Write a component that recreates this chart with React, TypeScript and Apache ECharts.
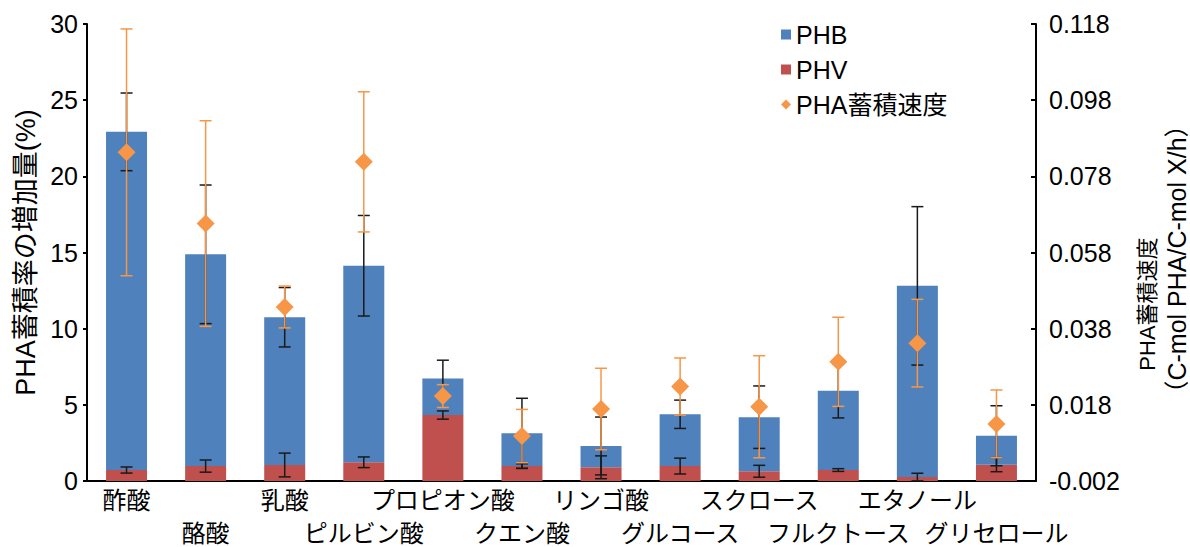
import React, { useEffect, useRef } from "react";
import * as echarts from "echarts";

const categories = [
  "酢酸", "酪酸", "乳酸", "ピルビン酸", "プロピオン酸", "クエン酸",
  "リンゴ酸", "グルコース", "スクロース", "フルクトース", "エタノール", "グリセロール",
];
const phvValues = [0.72, 0.98, 1.05, 1.23, 4.33, 0.98, 0.9, 0.98, 0.64, 0.72, 0.26, 1.07];
const phbValues = [22.2, 13.9, 9.7, 12.9, 2.4, 2.15, 1.4, 3.4, 3.55, 5.2, 12.55, 1.9];
const phbErrors = [2.55, 4.55, 1.95, 3.3, 1.2, 2.3, 1.9, 0.93, 2.05, 1.78, 5.2, 1.97];
const phvErrors = [0.2, 0.4, 0.78, 0.35, 0.27, 0.15, 0.75, 0.52, 0.39, 0.09, 0.25, 0.46];
const rateValues = [0.0843, 0.0656, 0.0437, 0.0818, 0.0203, 0.0098, 0.0169, 0.0228, 0.0175, 0.0293, 0.0342, 0.013];
const rateErrors = [0.0324, 0.027, 0.0055, 0.0184, 0.003, 0.007, 0.0107, 0.0075, 0.0134, 0.0117, 0.0115, 0.0089];

const leftAxisRange = { min: 0, max: 30, interval: 5 };
const rightAxisRange = { min: -0.002, max: 0.118, interval: 0.02 };

const FONT = "'Liberation Sans', 'Noto Sans CJK JP', sans-serif";
const BLUE = "#4F81BD";
const RED = "#C0504D";
const ORANGE = "#F79646";

function errorBarSeries(name: string, centers: number[], errors: number[], yAxisIndex: number, color: string, z: number) {
  return {
    type: "custom",
    name,
    yAxisIndex,
    z,
    silent: true,
    data: centers.map((c, i) => [i, c, errors[i]]),
    encode: { x: 0, y: 1 },
    renderItem: (_params: any, api: any) => {
      const i = api.value(0);
      const c = api.value(1);
      const e = api.value(2);
      const top = api.coord([i, c + e]);
      const bot = api.coord([i, c - e]);
      const hw = 6;
      const style = { stroke: color, lineWidth: 1.5 };
      return {
        type: "group",
        children: [
          { type: "line", shape: { x1: top[0], y1: top[1], x2: bot[0], y2: bot[1] }, style },
          { type: "line", shape: { x1: top[0] - hw, y1: top[1], x2: top[0] + hw, y2: top[1] }, style },
          { type: "line", shape: { x1: bot[0] - hw, y1: bot[1], x2: bot[0] + hw, y2: bot[1] }, style },
        ],
      };
    },
  };
}

export default function App() {
  const ref = useRef<HTMLDivElement>(null);
  useEffect(() => {
    if (!ref.current) return;
    const chart = echarts.init(ref.current, undefined, { renderer: "svg" });
    const totals = phbValues.map((v, i) => v + phvValues[i]);
    chart.setOption({
      animation: false,
      backgroundColor: "#ffffff",
      textStyle: { fontFamily: FONT, color: "#000" },
      grid: { left: 87, right: 154, top: 24, bottom: 66, containLabel: false, outerBoundsMode: "none" },
      legend: {
        orient: "vertical",
        left: 776,
        top: 17,
        itemWidth: 10,
        itemHeight: 10,
        itemGap: 10,
        textStyle: { fontFamily: FONT, fontSize: 25, color: "#000", lineHeight: 25 },
        data: [
          { name: "PHB", icon: "rect" },
          { name: "PHV", icon: "rect" },
          { name: "PHA蓄積速度", icon: "diamond" },
        ],
      },
      xAxis: {
        type: "category",
        data: categories,
        axisLine: { lineStyle: { color: "#000", width: 2 } },
        axisTick: { show: false },
        axisLabel: {
          interval: 0,
          fontSize: 24,
          color: "#000",
          fontFamily: FONT,
          lineHeight: 24,
          margin: 7,
          formatter: (v: string, i: number) => (i % 2 === 1 ? `{gap| }\n{low|${v}}` : v),
          rich: {
            gap: { fontSize: 10, lineHeight: 33 },
            low: { fontSize: 24, lineHeight: 24, color: "#000", fontFamily: FONT },
          },
        },
      },
      yAxis: [
        {
          type: "value",
          ...leftAxisRange,
          name: "PHA蓄積率の増加量(%)",
          nameLocation: "middle",
          nameRotate: 90,
          nameGap: 48,
          nameTextStyle: { fontSize: 27, color: "#000", fontFamily: FONT },
          axisLine: { show: true, lineStyle: { color: "#000", width: 2 } },
          axisTick: { show: true, length: 4, lineStyle: { color: "#000", width: 2 } },
          axisLabel: { fontSize: 25, color: "#000", margin: 9 },
          splitLine: { show: false },
        },
        {
          type: "value",
          ...rightAxisRange,
          position: "right",
          axisLine: { show: true, lineStyle: { color: "#000", width: 2 } },
          axisTick: { show: true, inside: true, length: 5, lineStyle: { color: "#000", width: 2 } },
          axisLabel: { fontSize: 25, color: "#000", margin: 13, formatter: (v: number) => v.toFixed(3) },
          splitLine: { show: false },
        },
      ],
      graphic: [
        {
          type: "text",
          x: 1147,
          y: 304,
          rotation: Math.PI / 2,
          style: { text: "PHA蓄積速度", fontSize: 22, fontFamily: FONT, fill: "#000", align: "center", verticalAlign: "middle" },
        },
        {
          type: "text",
          x: 1177,
          y: 259,
          rotation: Math.PI / 2,
          style: { text: "（C-mol PHA/C-mol X/h）", fontSize: 25, fontFamily: FONT, fill: "#000", align: "center", verticalAlign: "middle" },
        },
      ],
      series: [
        { name: "PHV", type: "bar", stack: "pha", barWidth: 41, data: phvValues, itemStyle: { color: RED }, z: 2 },
        { name: "PHB", type: "bar", stack: "pha", barWidth: 41, data: phbValues, itemStyle: { color: BLUE }, z: 2 },
        errorBarSeries("PHB誤差", totals, phbErrors, 0, "#1a1a1a", 3),
        errorBarSeries("PHV誤差", phvValues, phvErrors, 0, "#1a1a1a", 3),
        errorBarSeries("速度誤差", rateValues, rateErrors, 1, ORANGE, 4),
        {
          name: "PHA蓄積速度",
          type: "scatter",
          yAxisIndex: 1,
          symbol: "diamond",
          symbolSize: 18,
          data: rateValues,
          itemStyle: { color: ORANGE, opacity: 1 },
          z: 5,
        },
      ],
    });
    return () => chart.dispose();
  }, []);
  return <div ref={ref} style={{ position: "fixed", left: 0, top: 0, width: 1190, height: 547 }} />;
}
